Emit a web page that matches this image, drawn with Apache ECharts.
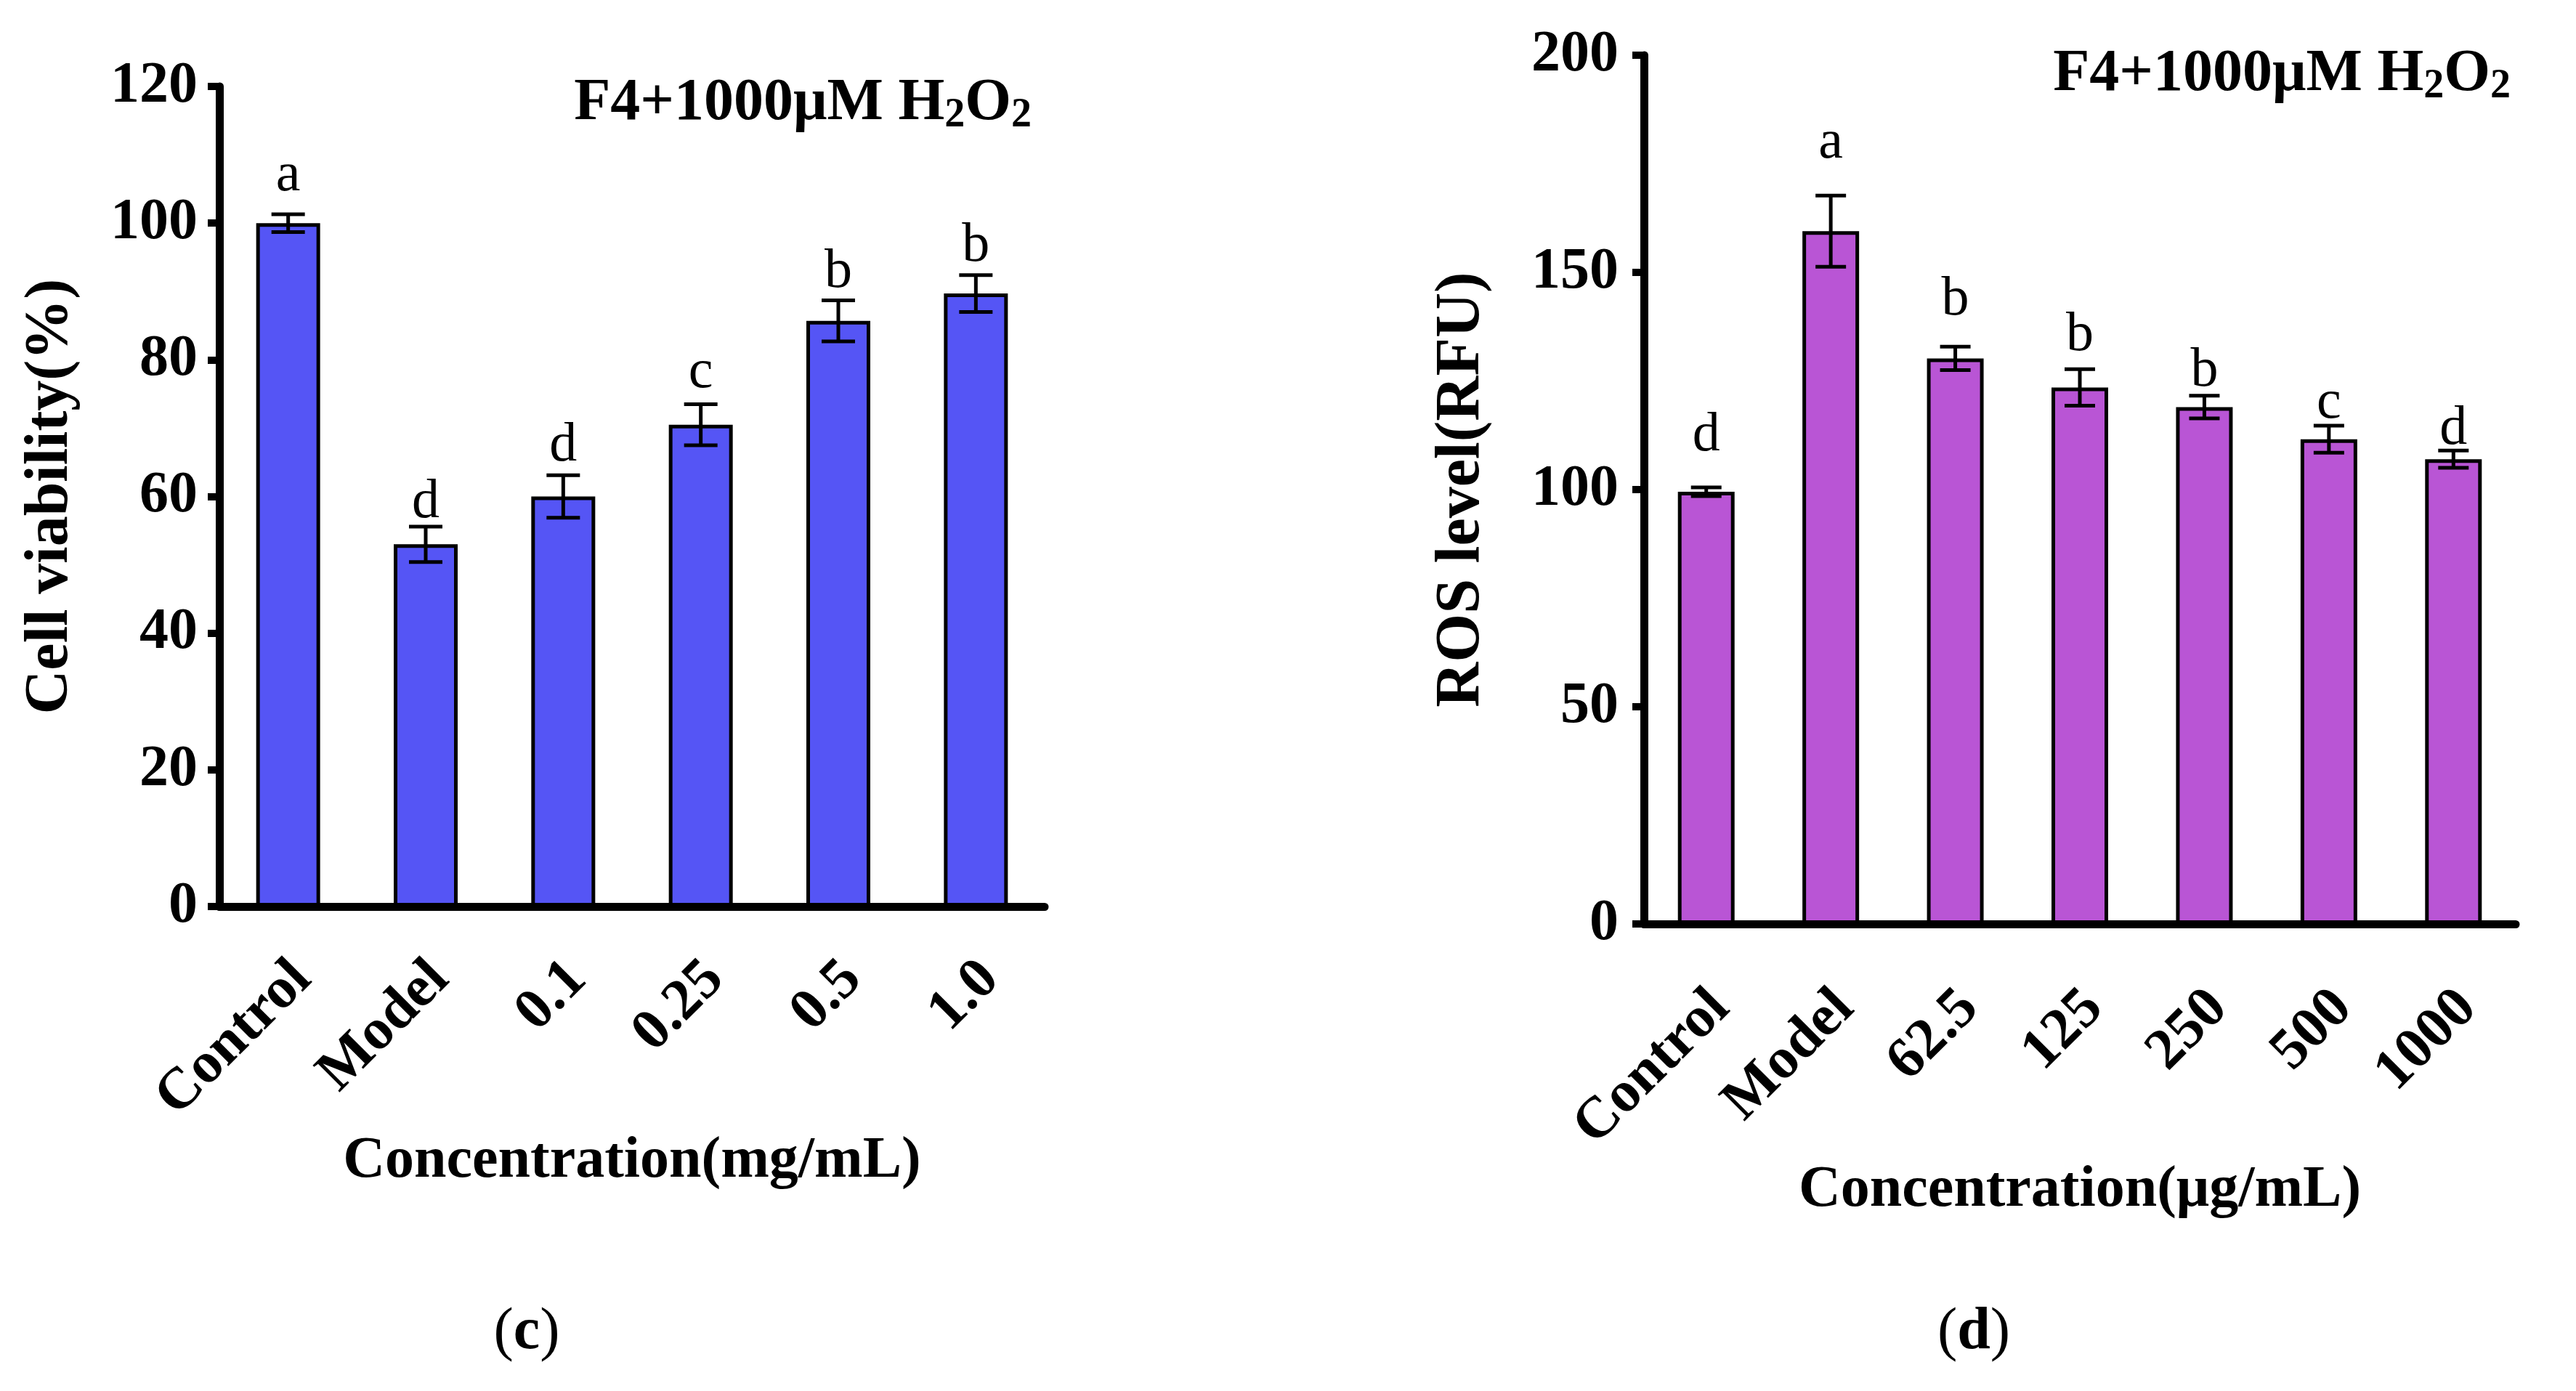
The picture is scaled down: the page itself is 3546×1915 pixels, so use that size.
<!DOCTYPE html>
<html>
<head>
<meta charset="utf-8">
<script src="https://cdn.jsdelivr.net/npm/echarts@6/dist/echarts.min.js"></script>
<style>
html, body { margin: 0; padding: 0; background: #fff; }
#chart { width: 3546px; height: 1915px; }
</style>
</head>
<body>
<div id="chart"></div>
<script>
var FONT = "'Liberation Serif', 'Times New Roman', serif";

// (c) cell viability
var viabCats = ['Control', 'Model', '0.1', '0.25', '0.5', '1.0'];
var viabMean = [100, 53, 60, 70.5, 85.7, 89.7];
var viabErr = [1.3, 2.6, 3.1, 3.0, 3.0, 2.7];
var viabLetters = ['a', 'd', 'd', 'c', 'b', 'b'];
var viabLetterAt = [104.7, 56.9, 65.2, 75.9, 90.6, 94.4];
var viabTicks = [0, 20, 40, 60, 80, 100, 120];

// (d) ROS level
var rosCats = ['Control', 'Model', '62.5', '125', '250', '500', '1000'];
var rosMean = [99.5, 159.5, 130.2, 123.5, 119, 111.6, 107];
var rosErr = [1.0, 8.2, 2.7, 4.2, 2.6, 3.1, 2.0];
var rosLetters = ['d', 'a', 'b', 'b', 'b', 'c', 'd'];
var rosLetterAt = [108.8, 176.3, 140.2, 132, 123.8, 116.4, 110.4];
var rosTicks = [0, 50, 100, 150, 200];

var myChart = echarts.init(document.getElementById('chart'));

// error bar + significance letter drawn per bar
function errorBars(letters, capW) {
    return function (params, api) {
        var i = api.value(0);
        var hi = api.coord([i, api.value(1) + api.value(2)]);
        var lo = api.coord([i, api.value(1) - api.value(2)]);
        var lab = api.coord([i, api.value(3)]);
        var s = {stroke: '#000', lineWidth: 5};
        return {
            type: 'group',
            children: [
                {type: 'line', shape: {x1: hi[0], y1: hi[1], x2: lo[0], y2: lo[1]}, style: s},
                {type: 'line', shape: {x1: hi[0] - capW / 2, y1: hi[1], x2: hi[0] + capW / 2, y2: hi[1]}, style: s},
                {type: 'line', shape: {x1: lo[0] - capW / 2, y1: lo[1], x2: lo[0] + capW / 2, y2: lo[1]}, style: s},
                {
                    type: 'text', x: lab[0], y: lab[1] + 17,
                    style: {
                        text: letters[params.dataIndex], fontSize: 76, fontFamily: FONT,
                        fill: '#000', align: 'center', verticalAlign: 'bottom'
                    }
                }
            ]
        };
    };
}

function valueAxis(grid, ticks, name, gap, margin, nameSize) {
    return {
        gridIndex: grid,
        type: 'value',
        min: ticks[0],
        max: ticks[ticks.length - 1],
        interval: ticks[1] - ticks[0],
        axisLine: {show: true, lineStyle: {color: '#000', width: 11}},
        axisTick: {show: true, length: 16, lineStyle: {color: '#000', width: 10}},
        axisLabel: {fontSize: 80, fontWeight: 'bold', fontFamily: FONT, color: '#000', margin: margin},
        splitLine: {show: false},
        name: name,
        nameLocation: 'middle',
        nameRotate: 90,
        nameGap: gap,
        nameTextStyle: {fontSize: nameSize, fontWeight: 'bold', fontFamily: FONT, color: '#000'}
    };
}

function catAxis(grid, cats, name, gap, margin) {
    return {
        gridIndex: grid,
        type: 'category',
        data: cats,
        axisLine: {show: true, lineStyle: {color: '#000', width: 11}},
        axisTick: {show: false},
        axisLabel: {
            interval: 0, rotate: 45, margin: margin, padding: [56, -28, 0, 0],
            fontSize: 80, fontWeight: 'bold', fontFamily: FONT, color: '#000'
        },
        name: name,
        nameLocation: 'middle',
        nameGap: gap,
        nameTextStyle: {fontSize: 80, fontWeight: 'bold', fontFamily: FONT, color: '#000'}
    };
}

var titleRich = {
    n: {fontSize: 82, fontWeight: 'bold', fontFamily: FONT, color: '#000', lineHeight: 90},
    s: {fontSize: 56, fontWeight: 'bold', fontFamily: FONT, color: '#000', lineHeight: 36, verticalAlign: 'bottom'}
};
var titleText = '{n|F4+1000μM H}{s|2}{n|O}{s|2}';

var panelRich = {
    p: {fontSize: 82, fontFamily: FONT, color: '#000'},
    b: {fontSize: 82, fontWeight: 'bold', fontFamily: FONT, color: '#000'}
};

option = {
    backgroundColor: '#fff',
    animation: false,
    title: [
        {text: titleText, right: 2126, top: 98, padding: 0, textStyle: {rich: titleRich}},
        {text: titleText, right: 90, top: 58, padding: 0, textStyle: {rich: titleRich}}
    ],
    grid: [
        {left: 302, right: 2108, top: 119, bottom: 667, containLabel: false},
        {left: 2263, right: 83, top: 76, bottom: 643, containLabel: false}
    ],
    xAxis: [
        catAxis(0, viabCats, 'Concentration(mg/mL)', 280, 108),
        catAxis(1, rosCats, 'Concentration(μg/mL)', 326, 124)
    ],
    yAxis: [
        valueAxis(0, viabTicks, 'Cell viability(%)', 190, 30, 84),
        valueAxis(1, rosTicks, 'ROS level(RFU)', 207, 35, 86)
    ],
    series: [
        {
            type: 'bar', xAxisIndex: 0, yAxisIndex: 0, data: viabMean, barWidth: 88,
            itemStyle: {color: '#5555F5', borderColor: '#000', borderWidth: 5}
        },
        {
            type: 'custom', xAxisIndex: 0, yAxisIndex: 0, clip: false, z: 5,
            encode: {x: 0, y: 1},
            renderItem: errorBars(viabLetters, 46),
            data: viabMean.map(function (m, i) { return [i, m, viabErr[i], viabLetterAt[i]]; })
        },
        {
            type: 'bar', xAxisIndex: 1, yAxisIndex: 1, data: rosMean, barWidth: 78,
            itemStyle: {color: '#B955D5', borderColor: '#000', borderWidth: 5}
        },
        {
            type: 'custom', xAxisIndex: 1, yAxisIndex: 1, clip: false, z: 5,
            encode: {x: 0, y: 1},
            renderItem: errorBars(rosLetters, 42),
            data: rosMean.map(function (m, i) { return [i, m, rosErr[i], rosLetterAt[i]]; })
        }
    ],
    graphic: [
        {type: 'text', x: 725, y: 1835, style: {text: '{p|(}{b|c}{p|)}', rich: panelRich, align: 'center', verticalAlign: 'middle'}},
        {type: 'text', x: 2717, y: 1835, style: {text: '{p|(}{b|d}{p|)}', rich: panelRich, align: 'center', verticalAlign: 'middle'}}
    ]
};
myChart.setOption(option);
</script>
</body>
</html>
